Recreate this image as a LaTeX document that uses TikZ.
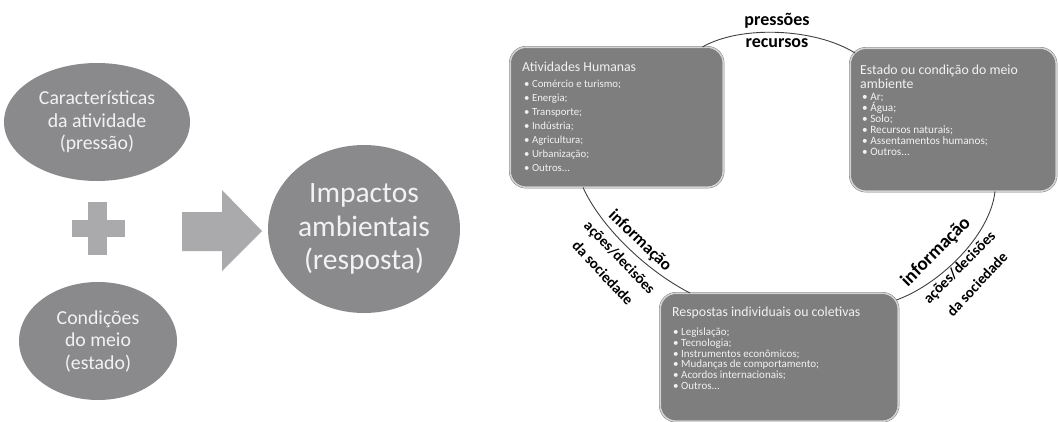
\documentclass[tikz,border=0pt]{standalone}
\usepackage{fontspec}
\setmainfont{Carlito}
\usetikzlibrary{shapes.geometric,calc}
\definecolor{ellgray}{HTML}{8A8A8C}
\definecolor{shapegray}{HTML}{AAAAAC}
\definecolor{boxgray}{HTML}{7E7E7E}
\definecolor{rimgray}{HTML}{D2D2D2}
\definecolor{txtlight}{HTML}{F2F2F2}
\newcommand\bxtitle{\fontsize{13.8}{14}\selectfont}
\newcommand\bxitemA{\fontsize{10.8}{14}\selectfont}
\newcommand\bxitemB{\fontsize{11.2}{11}\selectfont}
\newcommand\bxitemC{\fontsize{11}{10.7}\selectfont}
\begin{document}
\begin{tikzpicture}[x=1pt,y=-1pt,
  ell/.style={ellipse, fill=ellgray, text=txtlight, align=center, inner sep=0pt},
  infobox/.style={rectangle, rounded corners=16pt, fill=boxgray, draw=black!55, double=rimgray, double distance=1.6pt, anchor=north west, inner sep=0pt},
  boxtext/.style={anchor=north west, text=txtlight, align=left, inner sep=0pt},
  conn/.style={draw=black!75, line width=0.9pt},
  lbl/.style={font=\bfseries\fontsize{18}{18}\selectfont, inner sep=0pt},
  lblsmall/.style={font=\bfseries\fontsize{15}{15}\selectfont, inner sep=0pt}]
\useasboundingbox (0,0) rectangle (1058,421);

% ---- left part ----
\node[ell, minimum width=186, minimum height=118, font=\fontsize{19.8}{22.5}\selectfont] (e1) at (97,122) {Características\\da atividade\\(pressão)};
\node[ell, minimum width=158, minimum height=118, font=\fontsize{19.8}{22.5}\selectfont] (e2) at (98,341) {Condições\\do meio\\(estado)};
\node[ell, minimum width=192, minimum height=168, font=\fontsize{29.5}{33.5}\selectfont] (e3) at (364,229) {Impactos\\ambientais\\(resposta)};

\fill[shapegray] (88,202) rectangle (107,255);
\fill[shapegray] (72,220) rectangle (125,237);
\fill[shapegray] (182,212) -- (222,212) -- (222,190) -- (262,231) -- (222,271) -- (222,251) -- (182,251) -- cycle;

% ---- right part ----
\node[infobox, minimum width=213, minimum height=140] (b1) at (510,47) {};
\node[infobox, minimum width=206, minimum height=143] (b2) at (850,48) {};
\node[infobox, minimum width=238, minimum height=128] (b3) at (660,293) {};

\node[boxtext, font=\bxtitle] (t1) at ($(b1.north west)+(12,15)$) {Atividades Humanas};
\node[boxtext, font=\bxitemA] (l1) at ($(b1.north west)+(14,33)$) {• Comércio e turismo;\\• Energia;\\• Transporte;\\• Indústria;\\• Agricultura;\\• Urbanização;\\• Outros...};

\node[boxtext, font=\bxtitle] (t2) at ($(b2.north west)+(10,17)$) {Estado ou condição do meio\\ambiente};
\node[boxtext, font=\bxitemB] (l2) at ($(b2.north west)+(12,45)$) {• Ar;\\• Água;\\• Solo;\\• Recursos naturais;\\• Assentamentos humanos;\\• Outros...};

\node[boxtext, font=\bxtitle] (t3) at ($(b3.north west)+(12,14)$) {Respostas individuais ou coletivas};
\node[boxtext, font=\bxitemC] (l3) at ($(b3.north west)+(13,35)$) {• Legislação;\\• Tecnologia;\\• Instrumentos econômicos;\\• Mudanças de comportamento;\\• Acordos internacionais;\\• Outros...};

% connectors
\draw[conn] ($(b1.north east)+(-21,0)$) .. controls +(38,-22) and +(-40,-25) .. ($(b2.north west)+(5,5)$);
\draw[conn] ($(b1.south west)+(73,0)$) .. controls +(17,38) and +(-45,-23) .. ($(b3.north west)+(30,0)$);
\draw[conn] ($(b2.south west)+(145,0)$) .. controls +(-5,45) and +(42,-15) .. ($(b3.north east)+(-2,7)$);

% labels
\node[lbl] (p1) at (777,21) {pressões};
\node[lbl] (p2) at (777,43) {recursos};

\node[lbl, font=\bfseries\fontsize{17}{17}\selectfont, rotate=-44] (li1) at (640,241) {informação};
\node[lblsmall, rotate=-46] (la1) at (619,258) {ações/decisões};
\node[lblsmall, rotate=-47] (ls1) at (603,273) {da sociedade};

\node[lbl, font=\bfseries\fontsize{19}{19}\selectfont, rotate=45] (ri1) at (936,252) {informação};
\node[lblsmall, rotate=45] (ra1) at (960,268) {ações/decisões};
\node[lblsmall, rotate=47] (rs1) at (977,284) {da sociedade};
\end{tikzpicture}
\end{document}
